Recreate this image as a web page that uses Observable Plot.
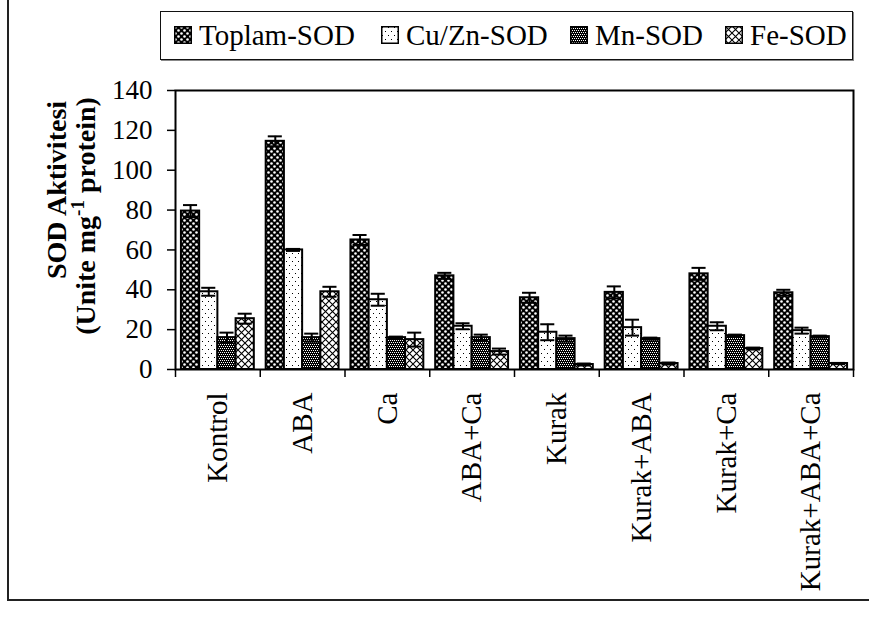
<!DOCTYPE html>
<html>
<head>
<meta charset="utf-8">
<script src="https://cdn.jsdelivr.net/npm/d3@7"></script>
<script src="https://cdn.jsdelivr.net/npm/@observablehq/plot@0.6"></script>
<style>
  html, body { margin: 0; padding: 0; background: #fff; }
  #wrap { position: relative; width: 869px; height: 619px; overflow: hidden; font-family: "Liberation Serif", "Times New Roman", serif; color: #000; }
  #outer { position: absolute; left: 7px; top: -4px; width: 880px; height: 605px; border-left: 2px solid #222; border-bottom: 2px solid #222; box-sizing: border-box; }
  #legend { position: absolute; left: 160px; top: 11px; width: 693px; height: 49px; border: 1.5px solid #111; box-shadow: 1px 1px 0 #888; box-sizing: border-box; background: #fff; }
  .item { position: absolute; top: 0; height: 46px; display: flex; align-items: center; font-size: 29px; white-space: nowrap; }
  .item svg { margin-right: 7px; }
  .ytitle { position: absolute; transform: translate(-50%, -50%) rotate(-90deg); font-weight: bold; font-size: 28px; line-height: 30px; white-space: nowrap; }
  .ytitle sup { font-size: 19px; vertical-align: 0.6em; line-height: 0; }
  #chart { position: absolute; left: 0; top: 0; }
</style>
</head>
<body>
<svg width="0" height="0" style="position:absolute">
  <defs>
    <!-- Toplam-SOD: black ground with staggered white holes -->
    <pattern id="pToplam" width="6" height="6" patternUnits="userSpaceOnUse">
      <rect width="6" height="6" fill="#000"/>
      <circle cx="1.5" cy="1.5" r="1.3" fill="#fff"/>
      <circle cx="4.5" cy="4.5" r="1.3" fill="#fff"/>
    </pattern>
    <!-- Cu/Zn-SOD: sparse dots on white -->
    <pattern id="pCuZn" width="6" height="8" patternUnits="userSpaceOnUse">
      <rect width="6" height="8" fill="#fff"/>
      <rect x="1" y="1" width="1" height="1" fill="#000"/>
      <rect x="4" y="5" width="1" height="1" fill="#000"/>
    </pattern>
    <!-- Mn-SOD: dense dark dotting -->
    <pattern id="pMn" width="4" height="4" patternUnits="userSpaceOnUse">
      <rect width="4" height="4" fill="#000"/>
      <rect x="0" y="0" width="1" height="1" fill="#fff"/>
      <rect x="2" y="0" width="1" height="1" fill="#fff"/>
      <rect x="1" y="2" width="1" height="1" fill="#fff"/>
      <rect x="3" y="2" width="1" height="1" fill="#fff"/>
    </pattern>
    <!-- Fe-SOD: diagonal cross-hatch -->
    <pattern id="pFe" width="7" height="7" patternUnits="userSpaceOnUse">
      <rect width="7" height="7" fill="#fff"/>
      <path d="M0,0L7,7M7,0L0,7" stroke="#000" stroke-width="1.1"/>
    </pattern>
  </defs>
</svg>
<div id="wrap">
  <div id="outer"></div>
  <div id="chart"></div>
  <div id="legend"></div>
  <div class="ytitle" style="left:57px; top:190px;">SOD Aktivitesi</div>
  <div class="ytitle" style="left:86px; top:216px;">(Unite mg<sup>-1</sup> protein)</div>
</div>
<script>
// Treatments along the x axis
const categories = ["Kontrol", "ABA", "Ca", "ABA+Ca", "Kurak", "Kurak+ABA", "Kurak+Ca", "Kurak+ABA+Ca"];
// Enzyme series
const series = ["Toplam-SOD", "Cu/Zn-SOD", "Mn-SOD", "Fe-SOD"];
// Mean activities (Unite mg-1 protein), one value per treatment
const toplamSOD = [79.5, 114.5, 65, 47, 36, 38.7, 48, 38.5];
const cuznSOD   = [39, 60, 35, 21.7, 18.7, 21, 21.7, 19.5];
const mnSOD     = [16, 16, 16, 16, 15.5, 15.5, 17, 16.5];
const feSOD     = [25.5, 39, 15, 9, 2.5, 3, 10.5, 3];
// Standard errors
const toplamErr = [3, 2.5, 2.5, 1.5, 2.5, 3, 3, 1.5];
const cuznErr   = [2, 0.5, 3, 1.5, 4, 4, 2, 1.5];
const mnErr     = [2.5, 2, 0.5, 1.5, 1.5, 0.5, 0.5, 0.5];
const feErr     = [2.5, 2.5, 3.5, 1.5, 0.5, 0.5, 0.5, 0.3];
// Y axis tick values
const yTicks = [0, 20, 40, 60, 80, 100, 120, 140];

const patterns = ["url(#pToplam)", "url(#pCuZn)", "url(#pMn)", "url(#pFe)"];
const values = [toplamSOD, cuznSOD, mnSOD, feSOD];
const errors = [toplamErr, cuznErr, mnErr, feErr];

// Long table: one row per treatment × enzyme
const rows = [];
categories.forEach((cat, gi) => {
  series.forEach((s, si) => {
    rows.push({category: cat, series: s, gi, si, value: values[si][gi], err: errors[si][gi]});
  });
});

// Bar layout inside each treatment slot (x in slot units)
const barW = 0.215;
const pad = (1 - series.length * barW) / 2;
const left = d => d.gi + pad + d.si * barW;
const mid = d => left(d) + barW / 2;
const capHalf = 0.083;

const font = '"Liberation Serif", "Times New Roman", serif';

const chart = Plot.plot({
  width: 869,
  height: 619,
  marginTop: 90,
  marginLeft: 175,
  marginRight: 16,
  marginBottom: 250,
  style: {fontFamily: font, fontSize: "27px", color: "#000", background: "transparent", overflow: "visible"},
  x: {type: "linear", domain: [0, categories.length], axis: null},
  y: {domain: [0, 140], axis: null},
  color: {type: "ordinal", domain: series, range: patterns},
  marks: [
    Plot.rectY(rows, {x1: left, x2: d => left(d) + barW, y: "value", fill: "series", stroke: "#000", strokeWidth: 2, inset: 0}),
    // error bars
    Plot.ruleX(rows, {x: mid, y1: d => d.value - d.err, y2: d => d.value + d.err, stroke: "#000", strokeWidth: 2}),
    Plot.ruleY(rows, {y: d => d.value + d.err, x1: d => mid(d) - capHalf, x2: d => mid(d) + capHalf, stroke: "#000", strokeWidth: 2}),
    Plot.ruleY(rows, {y: d => d.value - d.err, x1: d => mid(d) - capHalf, x2: d => mid(d) + capHalf, stroke: "#000", strokeWidth: 2}),
    // plot-area border
    Plot.frame({stroke: "#000", strokeWidth: 2}),
    // y axis
    Plot.axisY({ticks: yTicks, tickSize: 8, tickPadding: 15, tickFormat: d => String(d), label: null, strokeWidth: 1.5, fontSize: 27}),
    // separator ticks between treatments
    Plot.axisX({ticks: d3.range(categories.length + 1), tickSize: 8, tickFormat: () => "", label: null, strokeWidth: 1.5}),
    // treatment names
    Plot.axisX({ticks: d3.range(categories.length).map(i => i + 0.5), tickSize: 0, tickPadding: 23, tickRotate: -90,
      tickFormat: v => categories[Math.floor(v)], label: null, fontSize: 29})
  ]
});
document.getElementById("chart").appendChild(chart);

// Legend
const legendPos = [13, 220, 409, 564];
const legend = document.getElementById("legend");
series.forEach((s, i) => {
  const item = document.createElement("div");
  item.className = "item";
  item.style.left = legendPos[i] + "px";
  item.innerHTML = `<svg width="18" height="18"><rect x="0.75" y="0.75" width="16.5" height="16.5" fill="${patterns[i]}" stroke="#000" stroke-width="1.5"/></svg><span>${s}</span>`;
  legend.appendChild(item);
});
</script>
</body>
</html>
